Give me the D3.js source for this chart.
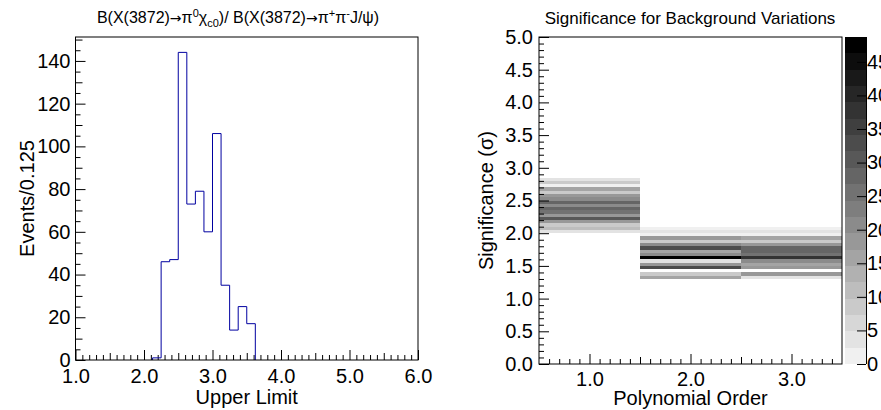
<!DOCTYPE html>
<html>
<head>
<meta charset="utf-8">
<script src="https://cdn.jsdelivr.net/npm/d3@7/dist/d3.min.js"></script>
<style>
body { margin: 0; background: #fff; }
svg text { font-family: "Liberation Sans", Arial, sans-serif; fill: #000; }
</style>
</head>
<body>
<svg id="chart" width="881" height="410"></svg>
<script>
// left: upper limit toys (bins of 0.125)
const ulBinStart = [2.125, 2.25, 2.375, 2.5, 2.625, 2.75, 2.875, 3.0, 3.125, 3.25, 3.375, 3.5];
const ulCounts = [1, 46, 47, 144, 73, 79, 60, 106, 35, 14, 25, 17];
const ulBinWidth = 0.125;
const ulTicks = [1, 2, 3, 4, 5, 6];
const ulCountTicks = [0, 20, 40, 60, 80, 100, 120, 140];

// right: significance per polynomial order (bins of 0.05, listed bottom -> top)
const polyOrders = [1, 2, 3];
const sigBinWidth = 0.05;
const sigLow = [2.0, 1.3, 1.3];
const sigOrder1 = [4, 11, 8, 18, 31, 18, 25, 28, 21, 28, 21, 18, 8, 15, 2, 8, 4];
const sigOrder2 = [15, 8, 0, 34, 18, 4, 47, 21, 15, 34, 21, 8, 18, 1, 4, 1];
const sigOrder3 = [4, 18, 0, 18, 15, 21, 38, 25, 28, 28, 18, 8, 15, 1, 4, 1];
const sigTicks = [0, 0.5, 1, 1.5, 2, 2.5, 3, 3.5, 4, 4.5, 5];
const zTicks = [0, 5, 10, 15, 20, 25, 30, 35, 40, 45];
const zMax = 48.7;
const nGrey = 20;

const svg = d3.select('#chart');

function styleAxis(g, size) {
    g.select('.domain').remove();
    g.selectAll('line').attr('stroke', '#000');
    g.selectAll('text')
        .attr('font-size', size)
        .attr('font-family', '"Liberation Sans", Arial, sans-serif')
        .attr('fill', '#000');
}

function addAxis(parent, axisFn, scale, values, len, fmt, pad) {
    let g = parent.append('g');
    g.call(axisFn(scale).tickValues(values).tickSize(-len).tickPadding(pad)
        .tickFormat(fmt == null ? '' : fmt));
    styleAxis(g, 20);
    return g;
}

// ---------- left histogram ----------
const lx = d3.scaleLinear().domain([1, 6]).range([75.5, 418]);
const ly = d3.scaleLinear().domain([0, d3.max(ulCounts) * 1.05]).range([360, 37]);

let left = svg.append('g');
let tenths = d3.range(10, 61).map(v => v / 10);
let xb = left.append('g').attr('transform', 'translate(0,' + ly(0) + ')');
addAxis(xb, d3.axisBottom, lx, tenths.filter(v => Math.abs(v * 2 - Math.round(v * 2)) > 1e-6), 5, null, 0);
addAxis(xb, d3.axisBottom, lx, tenths.filter(v => Math.abs(v - Math.round(v)) > 1e-6 && Math.abs(v * 2 - Math.round(v * 2)) < 1e-6), 7, null, 0);
addAxis(xb, d3.axisBottom, lx, ulTicks, 10, d3.format('.1f'), 9);

let yb = left.append('g').attr('transform', 'translate(' + lx(1) + ',0)');
let fives = d3.range(0, 151, 5);
addAxis(yb, d3.axisLeft, ly, fives.filter(v => v % 10 != 0), 5, null, 0);
addAxis(yb, d3.axisLeft, ly, fives.filter(v => v % 10 == 0 && v % 20 != 0), 7, null, 0);
addAxis(yb, d3.axisLeft, ly, ulCountTicks, 10, d3.format('d'), 5);

let pts = [[ulBinStart[0], 0]];
ulBinStart.forEach((s, i) => {
    pts.push([s, ulCounts[i]]);
    pts.push([s + ulBinWidth, ulCounts[i]]);
});
pts.push([ulBinStart[ulBinStart.length - 1] + ulBinWidth, 0]);

left.append('path')
    .attr('d', d3.line().x(d => lx(d[0])).y(d => ly(d[1]))(pts))
    .attr('fill', 'none')
    .attr('stroke', '#0000a0')
    .attr('stroke-width', 1);

left.append('rect')
    .attr('x', lx(1)).attr('y', ly.range()[1])
    .attr('width', lx(6) - lx(1)).attr('height', ly(0) - ly.range()[1])
    .attr('fill', 'none').attr('stroke', '#000').attr('stroke-width', 1);

left.append('text')
    .attr('x', (lx(1) + lx(6)) / 2).attr('y', 404)
    .attr('text-anchor', 'middle').attr('font-size', 20)
    .text('Upper Limit');
left.append('text')
    .attr('transform', 'translate(34,' + (ly(0) + ly.range()[1]) / 2 + ') rotate(-90)')
    .attr('text-anchor', 'middle').attr('font-size', 20)
    .text('Events/0.125');

let t1 = left.append('text')
    .attr('x', 238).attr('y', 23)
    .attr('text-anchor', 'middle').attr('font-size', 16);
let arrow = sel => sel.append('tspan')
    .attr('font-family', '"DejaVu Sans", sans-serif').attr('font-size', 14).text('\u2192');
t1.append('tspan').text('B(X(3872)');
arrow(t1);
t1.append('tspan').text('\u03c0');
t1.append('tspan').attr('font-size', 11).attr('dy', -6).text('0');
t1.append('tspan').attr('dy', 6).text('\u03c7');
t1.append('tspan').attr('font-size', 11).attr('dy', 4).text('c0');
t1.append('tspan').attr('dy', -4).text(')/ B(X(3872)');
arrow(t1);
t1.append('tspan').text('\u03c0');
t1.append('tspan').attr('font-size', 11).attr('dy', -6).text('+');
t1.append('tspan').attr('dy', 6).text('\u03c0');
t1.append('tspan').attr('font-size', 11).attr('dy', -6).text('-');
t1.append('tspan').attr('dy', 6).text('J/\u03c8)');

// ---------- right 2D significance ----------
const rx = d3.scaleLinear().domain([0.5, 3.5]).range([539, 842]);
const ry = d3.scaleLinear().domain([0, 5]).range([364, 37]);
const greys = d3.range(nGrey).map(i => {
    let g = Math.round(240 * (1 - i / (nGrey - 1)));
    return d3.rgb(g, g, g).formatHex();
});
const zColor = d3.scaleQuantize().domain([0, zMax]).range(greys);
const zy = d3.scaleLinear().domain([0, zMax]).range([364, 37]);

let right = svg.append('g');
let cells = [];
[sigOrder1, sigOrder2, sigOrder3].forEach((col, j) => {
    col.forEach((c, i) => {
        if (c > 0) cells.push({order: polyOrders[j], lo: sigLow[j] + i * sigBinWidth, n: c});
    });
});

right.append('g').selectAll('rect').data(cells).enter().append('rect')
    .attr('x', d => rx(d.order - 0.5))
    .attr('width', d => rx(d.order + 0.5) - rx(d.order - 0.5))
    .attr('y', d => ry(d.lo + sigBinWidth))
    .attr('height', d => ry(d.lo) - ry(d.lo + sigBinWidth))
    .attr('fill', d => zColor(d.n))
    .attr('shape-rendering', 'crispEdges');

let rxb = right.append('g').attr('transform', 'translate(0,' + ry(0) + ')');
let rtenths = d3.range(6, 35).map(v => v / 10);
addAxis(rxb, d3.axisBottom, rx, rtenths.filter(v => Math.abs(v * 2 - Math.round(v * 2)) > 1e-6), 5, null, 0);
addAxis(rxb, d3.axisBottom, rx, [1.5, 2.5], 7, null, 0);
addAxis(rxb, d3.axisBottom, rx, polyOrders, 10, d3.format('.1f'), 8);

let ryb = right.append('g').attr('transform', 'translate(' + rx(0.5) + ',0)');
let rTenthsY = d3.range(0, 51).map(v => v / 10);
addAxis(ryb, d3.axisLeft, ry, rTenthsY.filter(v => Math.abs(v * 2 - Math.round(v * 2)) > 1e-6), 5, null, 0);
addAxis(ryb, d3.axisLeft, ry, sigTicks, 10, d3.format('.1f'), 6);

right.append('rect')
    .attr('x', rx(0.5)).attr('y', ry(5))
    .attr('width', rx(3.5) - rx(0.5)).attr('height', ry(0) - ry(5))
    .attr('fill', 'none').attr('stroke', '#000').attr('stroke-width', 1);

// colour bar
let bar = right.append('g');
bar.selectAll('rect').data(d3.range(nGrey)).enter().append('rect')
    .attr('x', 845).attr('width', 21)
    .attr('y', i => zy((i + 1) * zMax / nGrey))
    .attr('height', i => zy(i * zMax / nGrey) - zy((i + 1) * zMax / nGrey))
    .attr('fill', i => greys[i])
    .attr('shape-rendering', 'crispEdges');
let zb = bar.append('g').attr('transform', 'translate(866,0)');
zb.call(d3.axisRight(zy).tickValues(zTicks).tickSize(-9).tickPadding(1).tickFormat(d3.format('d')));
styleAxis(zb, 20);
zb.append('line').attr('x1', 0.5).attr('x2', 0.5).attr('y1', zy(zMax)).attr('y2', zy(0)).attr('stroke', '#000');

right.append('text')
    .attr('x', (rx(0.5) + rx(3.5)) / 2).attr('y', 405)
    .attr('text-anchor', 'middle').attr('font-size', 20)
    .text('Polynomial Order');
right.append('text')
    .attr('transform', 'translate(493,' + (ry(0) + ry(5)) / 2 + ') rotate(-90)')
    .attr('text-anchor', 'middle').attr('font-size', 20)
    .text('Significance (\u03c3)');
right.append('text')
    .attr('x', 690).attr('y', 24)
    .attr('text-anchor', 'middle').attr('font-size', 17)
    .text('Significance for Background Variations');
</script>
</body>
</html>
